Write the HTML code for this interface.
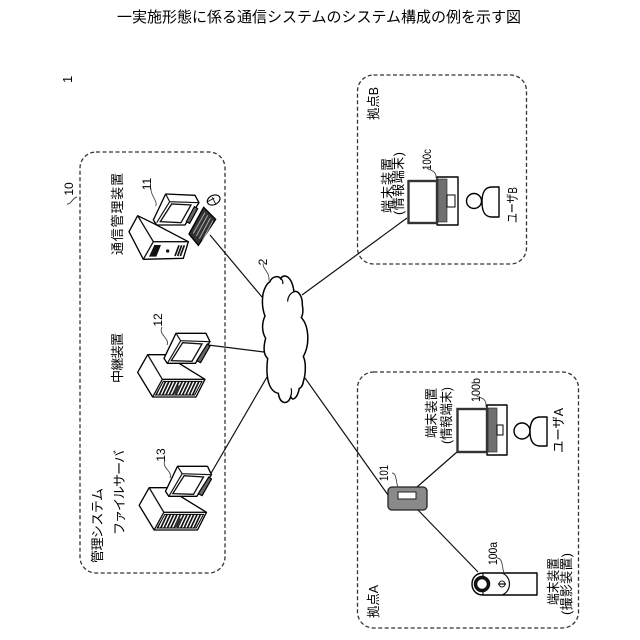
<!DOCTYPE html>
<html><head><meta charset="utf-8"><style>
html,body{margin:0;padding:0;background:#fff}
svg{display:block}
text{font-family:"Liberation Sans","Noto Sans CJK JP",sans-serif;fill:#000}
.d{fill:none;stroke:#333;stroke-width:1.3;stroke-dasharray:4 2.5}
.l{stroke:#111;stroke-width:1.2;fill:none}
.t{fill:#fff;stroke:#000;stroke-width:1.4;stroke-linejoin:round}
.h{fill:none;stroke:#444;stroke-width:.9}
</style></head><body>
<svg width="640" height="640" viewBox="0 0 640 640" xmlns="http://www.w3.org/2000/svg">
<defs>
<pattern id="vent" width="10" height="10" patternUnits="userSpaceOnUse" patternTransform="skewX(-25)"><rect width="10" height="10" fill="#fff"/><rect width="5.500" height="10" fill="#111"/></pattern>
<g id="srv">
<g transform="translate(130,320) scale(.3333)">
<path class="t" d="M23 157L53 104L105 104L225 178L198 231L68 231Z" style="stroke-width:4"/>
<path class="l" d="M53 104L97 178L68 231M97 178H225" style="stroke-width:4"/>
<path d="M77 225L100 184H216L194 225Z" fill="url(#vent)" stroke="#000" stroke-width="3"/>
<path d="M128 222L140 196H152L140 222Z" fill="#333"/>
<path class="t" d="M102 115L138 40L228 40L240 65L196 130L112 130Z" style="stroke-width:4"/>
<path class="l" d="M138 40L152 62L240 65M152 62L112 130" style="stroke-width:3.500"/>
<path class="l" d="M124 122L158 68L216 72L186 124Z" style="stroke-width:4"/>
<path d="M200 122L232 72L240 78L212 128Z" fill="#666" stroke="#000" stroke-width="3.500"/>
</g>
</g>
</defs>

<text x="319" y="22" font-size="15" text-anchor="middle" textLength="404">一実施形態に係る通信システムのシステム構成の例を示す図</text>

<g transform="translate(72,83) rotate(-90)"><text font-size="13">1</text></g>

<rect class="d" x="80" y="152" width="145" height="421" rx="16"/>
<rect class="d" x="357.500" y="75" width="169" height="189" rx="16"/>
<rect class="d" x="357.500" y="372" width="221" height="256" rx="16"/>

<path class="l" d="M210 235L262 297M208 345L264 352M210 475L267 377M407 218L302 295M305 378L388 495M417 487L457 452M418 510L478 572"/>

<g transform="translate(220,240) scale(.3333)">
<path d="M128 170C130 150 140 130 150 125C155 110 175 105 182 116C190 100 215 105 222 155C235 150 248 170 247 195C250 210 248 225 244 233C265 255 272 310 250 350C258 365 258 400 250 425C248 440 240 445 238 445C232 475 218 485 212 470C205 495 180 495 175 460C150 455 135 420 143 355C130 345 130 320 137 295C125 275 125 250 135 228C128 210 126 190 128 170Z" fill="#fff" stroke="#000" stroke-width="4.500"/>
<path d="M222 155C210 160 203 172 203 185M182 116C188 120 190 125 188 132M212 470C215 460 215 450 213 445" fill="none" stroke="#000" stroke-width="3.500"/>
<path d="M130 70C125 85 150 95 147 122" fill="none" stroke="#444" stroke-width="2.500"/>
</g>
<g transform="translate(267,262) rotate(-90)"><text font-size="12" text-anchor="middle">2</text></g>

<g transform="translate(125,170) scale(.3333)">
<path class="t" d="M12 185L38 137L85 160L190 215L175 265L55 268Z" style="stroke-width:4"/>
<path class="l" d="M38 137L85 215L55 268M85 215H192" style="stroke-width:4"/>
<path d="M72 260L88 225H108L94 260Z" fill="#111"/>
<circle cx="128" cy="243" r="5" fill="#111"/>
<path d="M150 258L162 226M158 258L170 226M166 258L178 226" stroke="#111" stroke-width="5"/>
<path class="t" d="M85 150L122 72L210 76L222 98L180 165L95 165Z" style="stroke-width:4"/>
<path class="l" d="M122 72L134 95L222 98M134 95L95 158" style="stroke-width:3.500"/>
<path class="l" d="M106 155L140 102L198 105L168 158Z" style="stroke-width:4"/>
<path d="M184 155L208 110L218 116L194 160Z" fill="#666" stroke="#000" stroke-width="3.500"/>
<path d="M192 192L236 112L272 148L220 226Z" fill="#333" stroke="#000" stroke-width="4"/>
<path d="M205 190L240 128M214 198L248 136M223 206L256 144M232 212L264 152" stroke="#aaa" stroke-width="3"/>
<ellipse cx="266" cy="90" rx="20" ry="14" transform="rotate(-25 266 90)" fill="#fff" stroke="#000" stroke-width="3.500"/>
<path d="M248 95L268 84M262 82L272 102" stroke="#000" stroke-width="2.500" fill="none"/>
<path d="M78 55C75 75 100 95 92 108" fill="none" stroke="#444" stroke-width="2.500"/>
</g>
<g transform="translate(151,184) rotate(-90)"><text font-size="12" text-anchor="middle">11</text></g>

<use href="#srv"/>
<use href="#srv" transform="translate(1.500,133)"/>
<path d="M162 327C158 335 170 338 167 345" class="h"/>
<path d="M165 460C161 468 173 471 170 478" class="h"/>
<g transform="translate(162,320) rotate(-90)"><text font-size="12" text-anchor="middle">12</text></g>
<g transform="translate(165,455) rotate(-90)"><text font-size="12" text-anchor="middle">13</text></g>

<g transform="translate(73,189) rotate(-90)"><text font-size="12" text-anchor="middle">10</text></g>
<path d="M67 204C72 204 72 198 77 197" class="h"/>

<rect class="t" x="437" y="177" width="21" height="48"/>
<rect x="438" y="179" width="9" height="43" fill="#707070" stroke="#222" stroke-width=".6"/>
<rect x="447" y="195" width="8" height="12" fill="#fff" stroke="#000" stroke-width="1"/>
<rect x="408.500" y="181" width="28.500" height="42" fill="#fff" stroke="#333" stroke-width="2.400"/>
<path d="M436 178C437 170 428 170 427 168" class="h"/>
<circle cx="474" cy="201" r="7.500" class="t"/>
<path class="t" d="M499 187H492C485 187 482 192 482 202C482 212 485 217 492 217H499Z"/>

<rect class="t" x="487" y="405" width="20" height="50"/>
<rect x="488" y="408" width="9" height="44" fill="#707070" stroke="#222" stroke-width=".6"/>
<rect x="497" y="425" width="6" height="10" fill="#fff" stroke="#000" stroke-width="1"/>
<rect x="457.500" y="409" width="29.500" height="43" fill="#fff" stroke="#333" stroke-width="2.400"/>
<path d="M486 407C487 396 477 398 477 396" class="h"/>
<circle cx="522" cy="431" r="8" class="t"/>
<path class="t" d="M547 417H540C533 417 530 422 530 431.500C530 441 533 446 540 446H547Z"/>

<rect x="388" y="487" width="39" height="23" rx="4" fill="#8a8a8a" stroke="#222" stroke-width="1.300"/>
<rect x="398" y="492" width="18" height="7" fill="#fff" stroke="#222" stroke-width="1"/>
<path d="M392 473C397 473 396 484 398 487" class="h"/>

<path class="t" d="M537 573H483C476 573 472 578 472 584C472 590 476 595 483 595H537Z"/>
<path class="l" d="M483 573V595"/>
<circle cx="482" cy="584" r="6.500" fill="#fff" stroke="#111" stroke-width="3.500"/>
<circle cx="502" cy="584" r="3" fill="#fff" stroke="#222" stroke-width="1"/>
<path class="l" d="M502 573C512 577 512 591 502 595M498 584H506"/>
<path d="M497 558C503 558 502 568 504 573" class="h"/>

<g font-size="13">
<g transform="translate(122,255) rotate(-90)"><text textLength="82">通信管理装置</text></g>
<g transform="translate(122,383) rotate(-90)"><text textLength="50">中継装置</text></g>
<g transform="translate(124,535) rotate(-90)"><text textLength="85">ファイルサーバ</text></g>
<g transform="translate(102,563) rotate(-90)"><text textLength="75">管理システム</text></g>
<g transform="translate(378,120) rotate(-90)"><text textLength="33" lengthAdjust="spacingAndGlyphs">拠点B</text></g>
<g transform="translate(378,618) rotate(-90)"><text textLength="33" lengthAdjust="spacingAndGlyphs">拠点A</text></g>
<g transform="translate(392,213) rotate(-90)"><text textLength="55">端末装置</text></g>
<g transform="translate(403,215) rotate(-90)"><text textLength="63">(情報端末)</text></g>
<g transform="translate(517,223) rotate(-90)"><text textLength="36" lengthAdjust="spacingAndGlyphs">ユーザB</text></g>
<g transform="translate(436,438) rotate(-90)"><text textLength="50" lengthAdjust="spacingAndGlyphs">端末装置</text></g>
<g transform="translate(451,444) rotate(-90)"><text textLength="57" lengthAdjust="spacingAndGlyphs">(情報端末)</text></g>
<g transform="translate(563,453) rotate(-90)"><text textLength="45" lengthAdjust="spacingAndGlyphs">ユーザA</text></g>
<g transform="translate(558,605) rotate(-90)"><text textLength="47" lengthAdjust="spacingAndGlyphs">端末装置</text></g>
<g transform="translate(571,615) rotate(-90)"><text textLength="62">(撮影装置)</text></g>
</g>
<g font-size="12">
<g transform="translate(431,170) rotate(-90)"><text textLength="21" lengthAdjust="spacingAndGlyphs">100c</text></g>
<g transform="translate(480,402) rotate(-90)"><text textLength="24" lengthAdjust="spacingAndGlyphs">100b</text></g>
<g transform="translate(388,481) rotate(-90)"><text textLength="16" lengthAdjust="spacingAndGlyphs">101</text></g>
<g transform="translate(497,565) rotate(-90)"><text textLength="23" lengthAdjust="spacingAndGlyphs">100a</text></g>
</g>
</svg>
</body></html>
